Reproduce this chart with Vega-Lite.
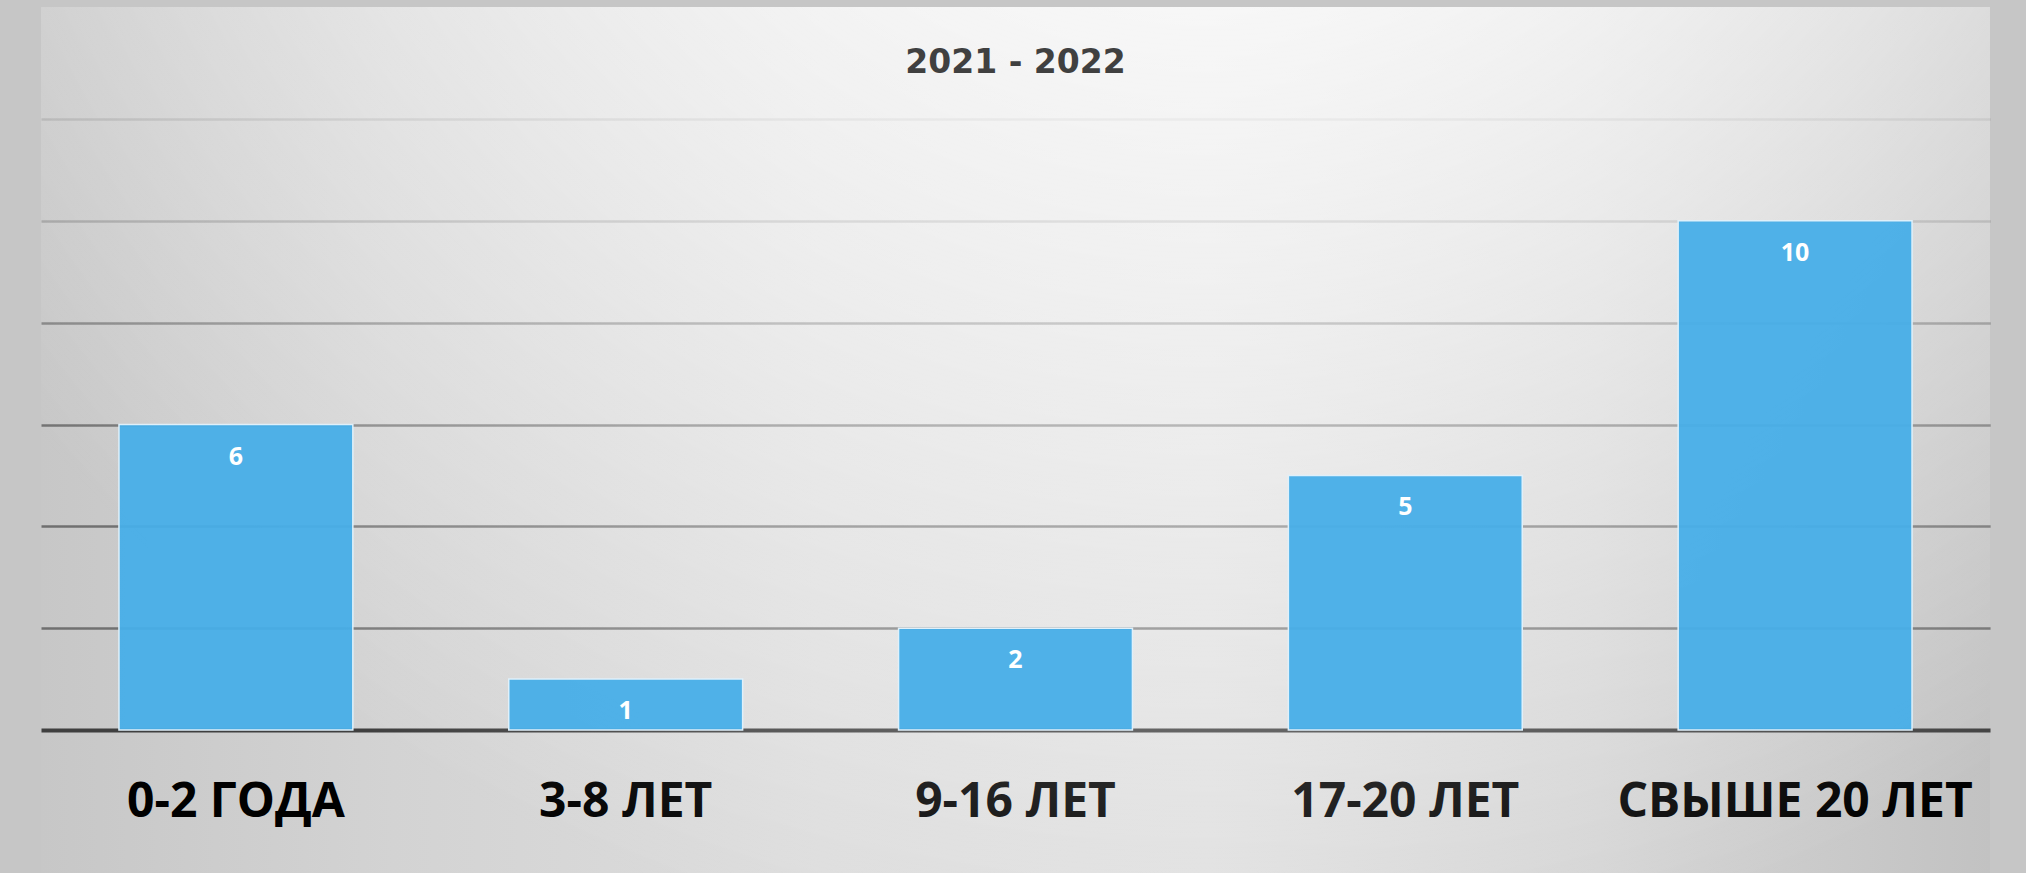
{
  "$schema": "https://vega.github.io/schema/vega-lite/v6.json",
  "width": 1949,
  "height": 866,
  "autosize": {"type": "none"},
  "padding": {"left": 41, "top": 7, "right": 36, "bottom": 0},
  "background": "#c6c6c6",
  "config": {
    "view": {
      "stroke": null,
      "fill": {
        "gradient": "linear",
        "x1": 0, "y1": 0, "x2": 1, "y2": 0,
        "stops": [
          {"offset": 0, "color": "#c7c7c7"},
          {"offset": 0.18, "color": "#d3d3d3"},
          {"offset": 0.4, "color": "#dddddd"},
          {"offset": 0.6, "color": "#e0e0e0"},
          {"offset": 0.8, "color": "#d5d5d5"},
          {"offset": 1, "color": "#c2c2c2"}
        ]
      }
    }
  },
  "title": {
    "text": "2021 - 2022",
    "anchor": "middle",
    "frame": "group",
    "offset": -99,
    "baseline": "alphabetic",
    "font": "DejaVu Sans",
    "fontWeight": "bold",
    "fontSize": 33,
    "color": "#404040"
  },
  "datasets": {
    "bars": [
      {"category": "0-2 ГОДА", "count": 6},
      {"category": "3-8 ЛЕТ", "count": 1},
      {"category": "9-16 ЛЕТ", "count": 2},
      {"category": "17-20 ЛЕТ", "count": 5},
      {"category": "СВЫШЕ 20 ЛЕТ", "count": 10}
    ],
    "bg": [{"k": 1}]
  },
  "layer": [
    {
      "data": {"name": "bg"},
      "mark": {
        "type": "rect",
        "fill": {
          "gradient": "radial",
          "x1": 0.6, "y1": 0, "r1": 0,
          "x2": 0.6, "y2": 0, "r2": 0.78,
          "stops": [
            {"offset": 0, "color": "rgba(255,255,255,1)"},
            {"offset": 0.35, "color": "rgba(255,255,255,0.75)"},
            {"offset": 1, "color": "rgba(255,255,255,0)"}
          ]
        }
      },
      "encoding": {}
    },
    {
      "data": {"name": "bars"},
      "mark": {
        "type": "bar",
        "fill": "#47aee8",
        "fillOpacity": 0.95,
        "stroke": "#dff0fa",
        "strokeWidth": 1.5
      },
      "encoding": {
        "x": {
          "field": "category",
          "type": "nominal",
          "sort": null,
          "scale": {"paddingInner": 0.4, "paddingOuter": 0.2},
          "axis": {
            "title": null,
            "labelAngle": 0,
            "labelFont": "Open Sans",
            "labelFontWeight": "bold",
            "labelFontSize": 48,
            "labelColor": "#000000",
            "labelLimit": 600,
            "ticks": false,
            "tickSize": 0,
            "domain": false,
            "grid": false,
            "labelPadding": -57,
            "labelBaseline": "alphabetic"
          }
        },
        "y": {
          "field": "count",
          "type": "quantitative",
          "scale": {"domain": [-2.808, 14.2], "nice": false, "zero": false},
          "axis": {
            "title": null,
            "values": [0, 2, 4, 6, 8, 10, 12],
            "labels": false,
            "ticks": false,
            "domain": false,
            "grid": true,
            "gridColor": {
              "condition": [
                {"test": "datum.value === 0", "value": "#3f3f3f"},
                {"test": "datum.value >= 12", "value": "rgba(0,0,0,0.12)"},
                {"test": "datum.value >= 10", "value": "rgba(0,0,0,0.2)"},
                {"test": "datum.value >= 8", "value": "rgba(0,0,0,0.34)"},
                {"test": "datum.value >= 6", "value": "rgba(0,0,0,0.42)"}
              ],
              "value": "rgba(0,0,0,0.44)"
            },
            "gridWidth": {
              "condition": {"test": "datum.value === 0", "value": 4},
              "value": 2.5
            }
          }
        }
      }
    },
    {
      "data": {"name": "bars"},
      "mark": {
        "type": "text",
        "color": "#ffffff",
        "font": "Open Sans",
        "fontWeight": "bold",
        "fontSize": 25,
        "baseline": "middle",
        "dy": 32
      },
      "encoding": {
        "x": {"field": "category", "type": "nominal", "sort": null},
        "y": {"field": "count", "type": "quantitative"},
        "text": {"field": "count", "type": "quantitative"}
      }
    }
  ]
}
